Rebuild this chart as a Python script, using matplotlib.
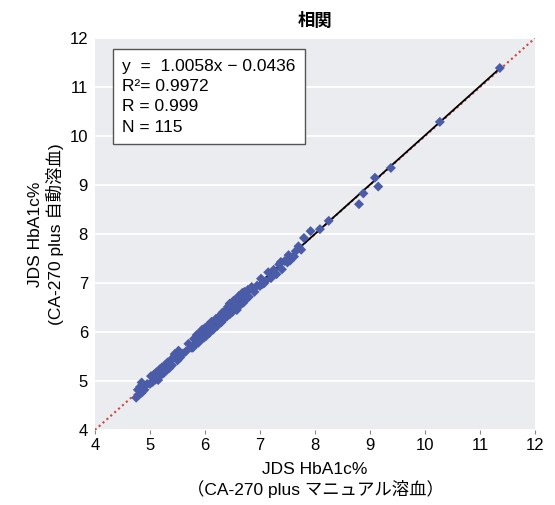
import numpy as np
import matplotlib
matplotlib.use("Agg")
import matplotlib.pyplot as plt

plt.rcParams['font.family'] = ['Liberation Sans', 'Noto Sans CJK JP', 'DejaVu Sans']

# 手動溶血 (x) vs 自動溶血 (y)
x_dense = [4.75, 4.78, 4.80, 4.82, 4.85, 4.88, 4.90, 4.95, 5.00, 5.02,
           5.05, 5.08, 5.10, 5.12, 5.15, 5.18, 5.20, 5.22, 5.25, 5.28,
           5.30, 5.32, 5.35, 5.38, 5.40, 5.45, 5.50, 5.52, 5.55, 5.60,
           5.65, 5.70, 5.75, 5.80, 5.82, 5.85, 5.88, 5.90, 5.92, 5.95,
           5.98, 6.00, 6.02, 6.05, 6.08, 6.10, 6.15, 6.20, 6.22, 6.25,
           6.30, 6.32, 6.35, 6.38, 6.40, 6.42, 6.45, 6.48, 6.50, 6.52,
           6.55, 6.58, 6.60, 6.62, 6.65, 6.68, 6.70, 6.72, 6.75, 6.78,
           6.80, 6.85, 6.90, 6.95, 7.00, 7.02, 7.05, 7.10, 7.15, 7.20,
           7.25, 7.30, 7.35, 7.40, 7.45, 7.50, 7.52, 7.55, 7.60, 7.65,
           7.70, 7.75, 4.85, 5.15, 5.45, 5.78, 6.12, 6.45, 6.58, 6.70,
           6.62, 7.08, 7.38, 7.62]
y_dense = [4.66, 4.82, 4.72, 4.88, 4.76, 4.92, 4.82, 4.94, 4.94, 5.10,
           4.98, 5.14, 5.03, 5.18, 5.08, 5.24, 5.12, 5.28, 5.16, 5.33,
           5.22, 5.38, 5.26, 5.43, 5.32, 5.50, 5.42, 5.62, 5.48, 5.56,
           5.60, 5.76, 5.68, 5.86, 5.74, 5.94, 5.78, 5.98, 5.84, 6.05,
           5.88, 6.08, 5.92, 6.13, 5.98, 6.15, 6.05, 6.27, 6.12, 6.31,
           6.20, 6.40, 6.27, 6.45, 6.32, 6.52, 6.36, 6.56, 6.41, 6.64,
           6.48, 6.68, 6.53, 6.74, 6.56, 6.80, 6.60, 6.82, 6.67, 6.86,
           6.72, 6.92, 6.82, 6.95, 6.94, 7.09, 6.98, 7.04, 7.22, 7.10,
           7.27, 7.18, 7.38, 7.28, 7.45, 7.42, 7.57, 7.46, 7.54, 7.65,
           7.75, 7.68, 4.97, 5.02, 5.55, 5.68, 6.21, 6.58, 6.45, 6.79,
           6.72, 7.00, 7.43, 7.54]
x_high = [7.80, 7.92, 8.09, 8.25, 8.80, 8.88, 9.09, 9.15, 9.38, 10.27, 11.36]
y_high = [7.92, 8.06, 8.10, 8.27, 8.61, 8.83, 9.15, 8.97, 9.35, 10.29, 11.39]

xs = np.array(x_dense + x_high)
ys = np.array(y_dense + y_high)

slope, intercept = 1.0058, -0.0436

fig = plt.figure(figsize=(5.55, 5.05), dpi=100)
ax = fig.add_axes([0.171, 0.1485, 0.793, 0.776])
ax.set_facecolor('#ebecf0')
for s in ax.spines.values():
    s.set_visible(False)

ax.set_xlim(4, 12)
ax.set_ylim(4, 12)
ax.set_xticks(range(4, 13))
ax.set_yticks(range(4, 13))
ax.grid(axis='y', color='white', linewidth=1.3)
ax.set_axisbelow(True)
ax.tick_params(axis='x', length=3, color='#888888', labelsize=12, pad=3)
ax.tick_params(axis='y', length=0, labelsize=12, pad=5)

ax.plot([4, 12], [4, 12], linestyle=(0, (1, 1.5)), color='#c8473f', linewidth=1.5, zorder=2)
lx = np.array([xs.min(), xs.max()])
ax.plot(lx, slope * lx + intercept, color='black', linewidth=1.3, zorder=3)
ax.scatter(xs, ys, marker='D', s=26, color='#4a5ca8', edgecolors='none', zorder=4)

stats = 'y  =  1.0058x − 0.0436\nR²= 0.9972\nR = 0.999\nN = 115'
ax.text(0.062, 0.948, stats, transform=ax.transAxes, va='top', ha='left',
        fontsize=12.5, linespacing=1.45,
        bbox=dict(boxstyle='square,pad=0.55', facecolor='white', edgecolor='#555555', linewidth=1))

ax.set_title('相関', fontsize=12.5, fontweight='bold', pad=9)
ax.set_xlabel('JDS HbA1c%\n（CA-270 plus マニュアル溶血）', fontsize=12.5, linespacing=1.25, labelpad=6)
ax.set_ylabel('JDS HbA1c%\n(CA-270 plus 自動溶血)', fontsize=12.5, linespacing=1.2)
ax.yaxis.set_label_coords(-0.07, 0.5)

fig.savefig('out.png', dpi=100)
